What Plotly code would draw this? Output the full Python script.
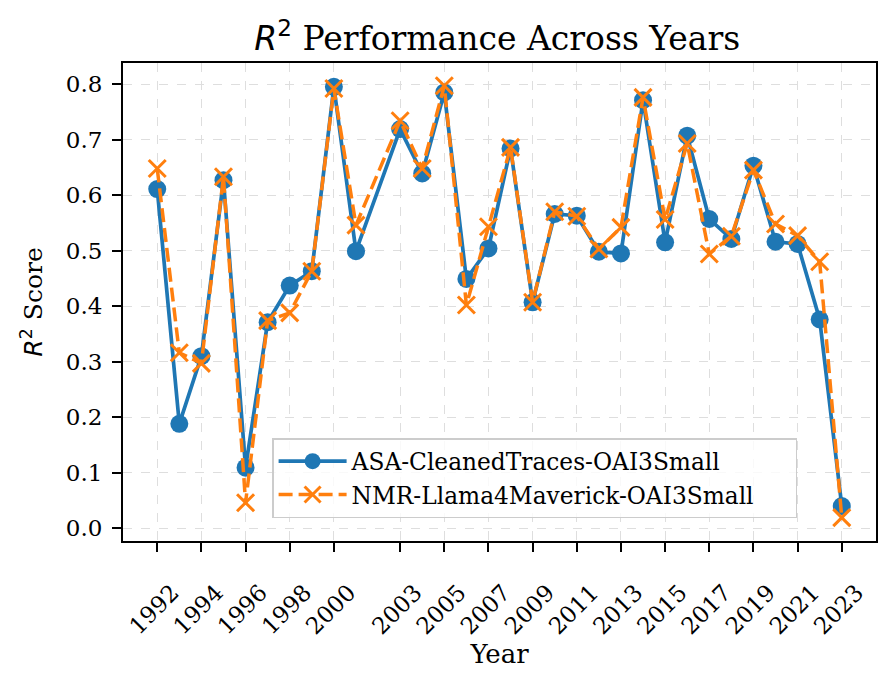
import plotly.graph_objects as go

years = [1992, 1993, 1994, 1995, 1996, 1997, 1998, 1999, 2000, 2001,
         2003, 2004, 2005, 2006, 2007, 2008, 2009, 2010, 2011, 2012, 2013,
         2014, 2015, 2016, 2017, 2018, 2019, 2020, 2021, 2022, 2023]

asa_values = [0.611, 0.188, 0.310, 0.627, 0.109, 0.371, 0.437, 0.463, 0.795, 0.499,
              0.719, 0.639, 0.785, 0.449, 0.504, 0.684, 0.407, 0.566, 0.563, 0.498, 0.495,
              0.771, 0.515, 0.707, 0.557, 0.521, 0.653, 0.516, 0.512, 0.376, 0.040]

nmr_values = [0.648, 0.316, 0.297, 0.633, 0.046, 0.374, 0.388, 0.463, 0.792, 0.546,
              0.734, 0.648, 0.797, 0.402, 0.543, 0.686, 0.407, 0.570, 0.562, 0.503, 0.542,
              0.776, 0.556, 0.693, 0.494, 0.526, 0.645, 0.548, 0.527, 0.480, 0.019]

asa_name = "ASA-CleanedTraces-OAI3Small"
nmr_name = "NMR-Llama4Maverick-OAI3Small"

tick_years = years[::2]
y_ticks = [0.0, 0.1, 0.2, 0.3, 0.4, 0.5, 0.6, 0.7, 0.8]

SERIF = "DejaVu Serif"
BLUE = "#1f77b4"
ORANGE = "#ff7f0e"
R2 = "<span style=\"font-family:'DejaVu Sans'\"><i>R</i><sup>2</sup></span>"
PAD = "\u00a0" * 5

fig = go.Figure()
fig.add_trace(go.Scatter(
    x=years, y=asa_values, name=asa_name + PAD, mode="lines+markers",
    line=dict(color=BLUE, width=3.7),
    marker=dict(symbol="circle", size=18, color=BLUE),
))
fig.add_trace(go.Scatter(
    x=years, y=nmr_values, name=nmr_name + PAD, mode="lines+markers",
    line=dict(color=ORANGE, width=3.5, dash="14px,6px"),
    marker=dict(symbol="x-thin", size=17, color=ORANGE,
                line=dict(color=ORANGE, width=3)),
))

axis_common = dict(
    showline=True, linecolor="black", linewidth=2, mirror=True,
    ticks="outside", ticklen=9, tickwidth=1.8, tickcolor="black",
    showgrid=True, gridcolor="#dedede", gridwidth=1, griddash="dash",
    zeroline=False,
    tickfont=dict(family=SERIF, size=23, color="black"),
)

fig.update_xaxes(
    range=[1990.45, 2024.55], tickvals=tick_years,
    ticktext=[str(y) for y in tick_years], tickangle=-45,
    ticklabelstandoff=18, ticklabelshift=15,
    title=dict(text="Year", font=dict(family=SERIF, size=26, color="black"), standoff=0),
    **axis_common,
)
fig.update_yaxes(
    range=[-0.023, 0.838], tickvals=y_ticks,
    ticktext=[f"{v:.1f}" for v in y_ticks],
    ticklabelstandoff=5,
    title=dict(text=R2 + " Score",
               font=dict(family=SERIF, size=25, color="black"), standoff=16),
    **axis_common,
)

fig.update_layout(
    width=888, height=682,
    margin=dict(l=115, r=20, t=55, b=149),
    paper_bgcolor="white", plot_bgcolor="white",
    title=dict(
        text=R2 + " Performance Across Years",
        font=dict(family=SERIF, size=33, color="black"),
        xref="paper", x=0.497, xanchor="center",
        yref="container", y=0.956, yanchor="middle",
    ),
    legend=dict(
        x=0.198, y=0.048, xanchor="left", yanchor="bottom",
        bgcolor="rgba(255,255,255,0.8)", bordercolor="#cccccc", borderwidth=1.5,
        font=dict(family=SERIF, size=23.3, color="black"),
        itemwidth=68,
        tracegroupgap=0,
    ),
    showlegend=True,
)

fig.write_html("out.html")
